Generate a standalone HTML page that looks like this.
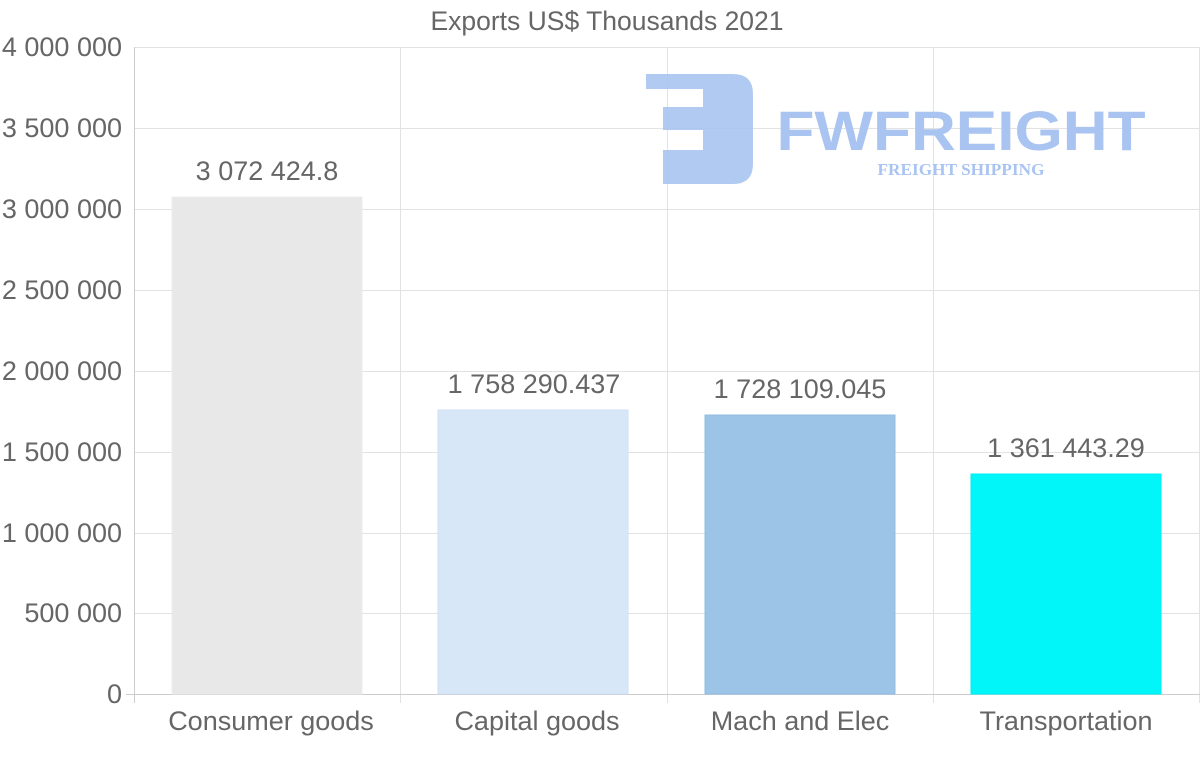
<!DOCTYPE html>
<html><head><meta charset="utf-8"><style>
html,body{margin:0;padding:0;background:#fff;}
svg{display:block;font-family:"Liberation Sans",Arial,sans-serif;}
</style></head><body>
<svg width="1200" height="763" viewBox="0 0 1200 763" xmlns="http://www.w3.org/2000/svg">
<rect width="1200" height="763" fill="#fff"/>
<text x="607" y="30" font-size="26.5" fill="#666" text-anchor="middle">Exports US$ Thousands 2021</text>
<g stroke="#e2e2e2" stroke-width="1">
<line x1="134" y1="47.5" x2="1200" y2="47.5"/>
<line x1="134" y1="128.5" x2="1200" y2="128.5"/>
<line x1="134" y1="209.5" x2="1200" y2="209.5"/>
<line x1="134" y1="290.5" x2="1200" y2="290.5"/>
<line x1="134" y1="371.5" x2="1200" y2="371.5"/>
<line x1="134" y1="452.5" x2="1200" y2="452.5"/>
<line x1="134" y1="533.5" x2="1200" y2="533.5"/>
<line x1="134" y1="613.5" x2="1200" y2="613.5"/>
<line x1="400.5" y1="47" x2="400.5" y2="703"/>
<line x1="667.5" y1="47" x2="667.5" y2="703"/>
<line x1="933.5" y1="47" x2="933.5" y2="703"/>
<line x1="1199.5" y1="47" x2="1199.5" y2="703"/>
</g>
<g stroke="#ccc"><line x1="134.5" y1="47" x2="134.5" y2="703"/><line x1="126" y1="694.5" x2="1200" y2="694.5"/></g>
<g font-size="27" fill="#666" text-anchor="end">
<text x="122" y="56">4 000 000</text>
<text x="122" y="137">3 500 000</text>
<text x="122" y="218">3 000 000</text>
<text x="122" y="299">2 500 000</text>
<text x="122" y="380">2 000 000</text>
<text x="122" y="461">1 500 000</text>
<text x="122" y="542">1 000 000</text>
<text x="122" y="622">500 000</text>
<text x="122" y="703">0</text>
</g>
<g>
<path d="M646 74H733Q753 74 753 94V164Q753 184 733 184H663V150H703V130H663V107H703V89H646Z" fill="#a9c4f1" opacity="0.9"/>
<text x="961" y="150" font-size="56" font-weight="bold" fill="#a9c4f1" text-anchor="middle" textLength="369" lengthAdjust="spacingAndGlyphs">FWFREIGHT</text>
<text x="961" y="175" font-size="17" font-weight="bold" fill="#a9c4f1" text-anchor="middle" font-family="Liberation Serif,serif" textLength="167" lengthAdjust="spacingAndGlyphs">FREIGHT SHIPPING</text>
</g>
<rect x="172" y="197" width="190" height="497" fill="#e8e8e8" stroke="#ececec"/>
<rect x="438" y="410" width="190" height="284" fill="#d8e7f8" stroke="#cfe0f6"/>
<rect x="705" y="415" width="190" height="279" fill="#9cc4e6" stroke="#92bde3"/>
<rect x="971" y="474" width="190" height="220" fill="#00f6f8" stroke="#00eef0"/>
<g font-size="27" fill="#666" text-anchor="middle">
<text x="267" y="180">3 072 424.8</text>
<text x="534" y="393">1 758 290.437</text>
<text x="800" y="398">1 728 109.045</text>
<text x="1066" y="457">1 361 443.29</text>
</g>
<g font-size="27" fill="#666" text-anchor="middle">
<text x="271" y="730">Consumer goods</text>
<text x="537" y="730">Capital goods</text>
<text x="800" y="730">Mach and Elec</text>
<text x="1066" y="730">Transportation</text>
</g>
</svg>
</body></html>
